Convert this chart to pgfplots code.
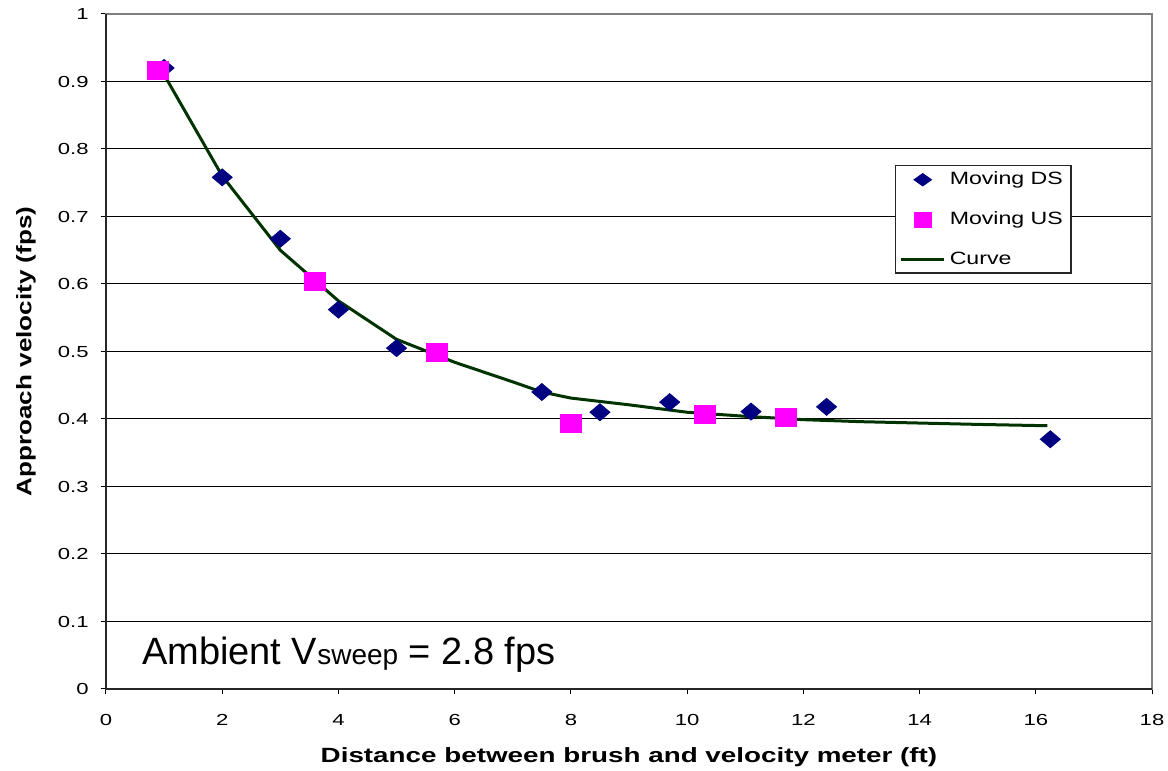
\documentclass[border=0pt]{standalone}
\usepackage{pgfplots}
\pgfplotsset{compat=1.18}
\usepackage{fontspec}
\setmainfont{Liberation Sans}
\newfontfamily\tickfont[FakeStretch=1.38]{Liberation Sans}
\newfontfamily\xlabfont[FakeStretch=1.35]{Liberation Sans}
\newfontfamily\ylabfont[FakeStretch=1.24]{Liberation Sans}
\newfontfamily\legfont[FakeStretch=1.3]{Liberation Sans}

\definecolor{navyc}{RGB}{0,0,128}
\definecolor{magc}{RGB}{255,0,255}
\definecolor{curvec}{RGB}{0,51,0}

\begin{document}
\begin{tikzpicture}
\path[use as bounding box] (-53pt,-41pt) rectangle (531pt,344.5pt);
\begin{axis}[
  at={(0,0)}, anchor=south west,
  scale only axis,
  width=523pt, height=337.5pt,
  xmin=0, xmax=18, ymin=0, ymax=1,
  xtick={0,2,4,6,8,10,12,14,16,18},
  xticklabels={0,2,4,6,8,10,12,14,16,18},
  ytick={0,0.1,0.2,0.3,0.4,0.5,0.6,0.7,0.8,0.9,1},
  yticklabels={0,0.1,0.2,0.3,0.4,0.5,0.6,0.7,0.8,0.9,1},
  /pgf/number format/assume math mode=true,
  tick label style={font=\fontsize{8}{9}\selectfont\tickfont},
  x tick label style={yshift=-6.5pt},
  y tick label style={xshift=-2.5pt},
  tick align=outside, tick pos=left,
  major tick length=2.7pt,
  tick style={black, line width=0.5pt},
  ymajorgrids,
  major grid style={black, line width=0.5pt},
  axis line style={gray, line width=1.1pt},
  clip=false,
  xlabel={Distance between brush and velocity meter (ft)},
  ylabel={Approach velocity (fps)},
  xlabel style={font=\fontsize{10.3}{12}\selectfont\xlabfont\bfseries,
    at={(rel axis cs:0.5,0)}, anchor=base, yshift=-37pt},
  ylabel style={font=\fontsize{10.5}{12}\selectfont\ylabfont\bfseries,
    at={(rel axis cs:0,0.5)}, anchor=center, yshift=40pt},
  legend image code/.code={\draw[mark repeat=2,mark phase=2,#1] plot coordinates {(0pt,0pt) (10.75pt,0pt) (21.5pt,0pt)};},
  legend style={at={(axis cs:13.58,0.776)}, anchor=north west,
    draw=black!85, line width=0.6pt, fill=white,
    font=\fontsize{8.9}{10}\selectfont\legfont,
    inner xsep=2pt, inner ysep=1pt, row sep=8pt,
    cells={anchor=west}},
]
\addlegendimage{only marks, mark=diamond*, mark size=3pt, mark options={xscale=1.89, fill=navyc, draw=navyc}}
\addlegendentry{Moving DS}
\addlegendimage{only marks, mark=square*, mark size=3.75pt, mark options={xscale=1.13, fill=magc, draw=magc}}
\addlegendentry{Moving US}
\addlegendimage{curvec, line width=1.5pt}
\addlegendentry{Curve}

% fitted curve
\addplot[curvec, line width=1.5pt, forget plot] coordinates {
  (1,0.910) (2,0.760) (3,0.650) (4,0.575) (5,0.518) (6,0.484)
  (7,0.455) (7.5,0.440) (8,0.431) (9,0.421) (10,0.410) (11,0.404)
  (12,0.399) (13,0.396) (14,0.394) (15,0.392) (16.2,0.390)
};
% moving downstream
\addplot[only marks, mark=diamond*, mark size=4.25pt, forget plot,
  mark options={xscale=1.57, fill=navyc, draw=navyc}] coordinates {
  (1.0,0.920) (2,0.758) (3,0.667) (4,0.562) (5,0.505) (7.5,0.440)
  (8.5,0.410) (9.7,0.425) (11.1,0.411) (12.4,0.418) (16.25,0.370)
};
% moving upstream
\addplot[only marks, mark=square*, mark size=4.5pt, forget plot,
  mark options={xscale=1.17, fill=magc, draw=magc}] coordinates {
  (0.9,0.916) (3.6,0.604) (5.7,0.498) (8.0,0.394) (10.3,0.407) (11.7,0.403)
};

\draw[black!85, line width=0.8pt] (rel axis cs:0,1) -- (rel axis cs:0,0) -- (rel axis cs:1,0);
\node[anchor=base west, inner sep=0pt, font=\fontsize{19}{22}\selectfont]
  at (axis cs:0.614,0.0356) {Ambient V{\fontsize{14}{16}\selectfont sweep} = 2.8 fps};
\end{axis}
\end{tikzpicture}
\end{document}
